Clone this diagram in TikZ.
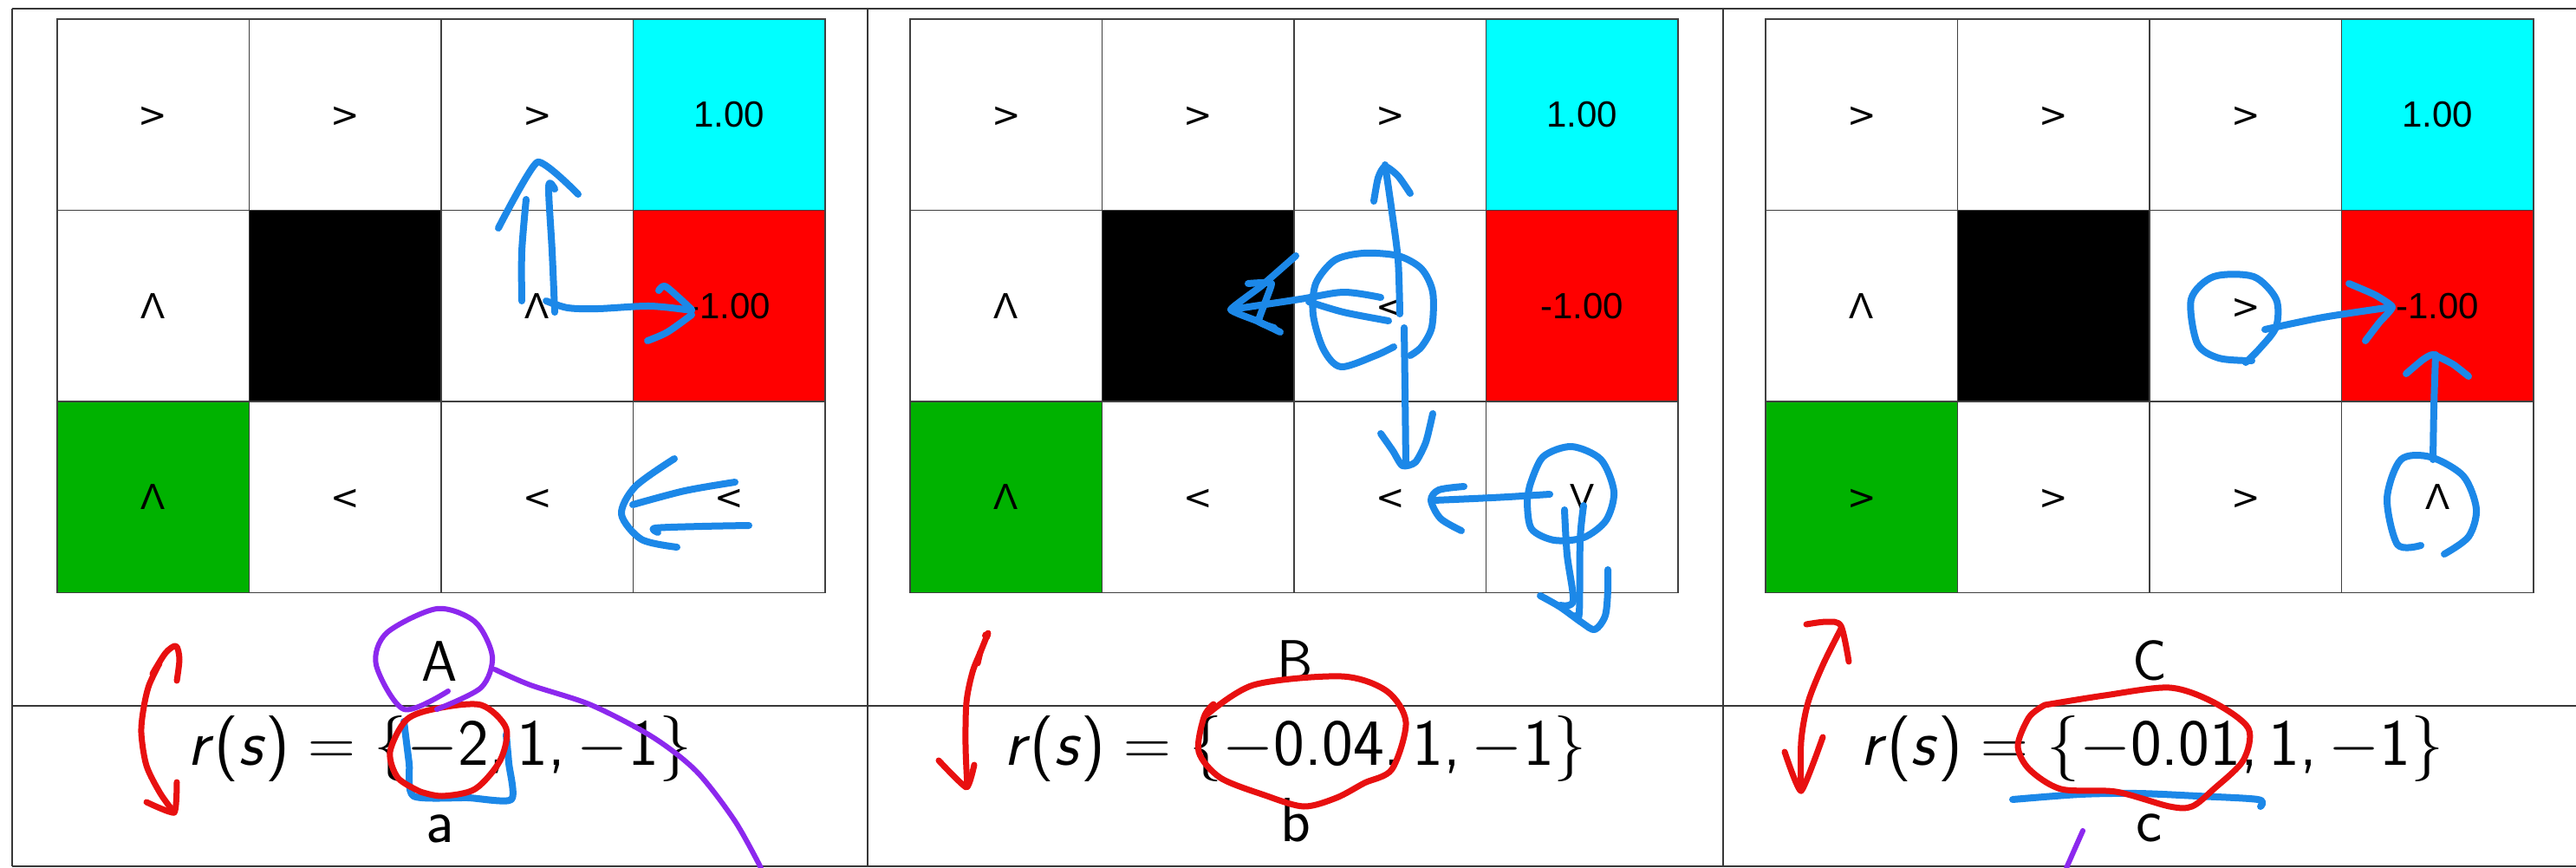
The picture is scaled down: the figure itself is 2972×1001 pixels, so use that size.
\documentclass[tikz,border=0pt]{standalone}
\usepackage{fix-cm}
\usepackage{fontspec}
\newfontfamily\liberation{Liberation Sans}
\newfontfamily\dejavu{DejaVu Sans}
\definecolor{penblue}{RGB}{28,136,232}
\definecolor{penred}{RGB}{232,16,16}
\definecolor{penpurple}{RGB}{140,40,238}
\definecolor{cellgreen}{RGB}{0,178,0}
\definecolor{cellcyan}{RGB}{0,255,255}
\definecolor{cellred}{RGB}{255,0,0}
\definecolor{framegray}{RGB}{55,55,55}
\newcommand\rsrow[1]{\textit{r}(\textit{s})\hspace{0.28em}$=$\hspace{0.28em}$\{$#1,\hspace{0.17em}1,\hspace{0.17em}$-$1$\}$}
\newcommand\gt{{\dejavu\fontsize{20pt}{24pt}\selectfont >}}
\newcommand\lt{{\dejavu\fontsize{20pt}{24pt}\selectfont <}}
\newcommand\panelgrid[3]{%
  \foreach \r/\c/\t/\f in {#3} {
    \node[cell, fill=\f] (#1-\r-\c) at ({#2+(\c-0.5)*221.5}, {22+(\r-0.5)*220.5}) {\t};
  }}
\begin{document}
\begin{tikzpicture}[x=0.5pt,y=-0.5pt,
  cell/.style={draw=black!75, line width=0.7pt, minimum width=110.75pt, minimum height=110.25pt,
    inner sep=0pt, text height=14.3pt, text depth=0pt, font=\fontsize{21pt}{25pt}\selectfont\liberation},
  frameline/.style={draw=framegray, line width=1.3pt},
  lbl/.style={inner sep=0pt, anchor=base, font=\fontsize{33pt}{40pt}\selectfont\sffamily},
  eqn/.style={inner sep=0pt, anchor=base, font=\fontsize{38pt}{45pt}\selectfont\sffamily},
  sub/.style={inner sep=0pt, anchor=base, font=\fontsize{36pt}{43pt}\selectfont\sffamily},
  pblue/.style={draw=penblue, line width=4pt, line cap=round, line join=round},
  pred/.style={draw=penred, line width=3.5pt, line cap=round, line join=round},
  ppurple/.style={draw=penpurple, line width=3pt, line cap=round, line join=round}]
\useasboundingbox (0,0) rectangle (2972,1001);
\fill[white] (0,0) rectangle (2972,1001);
% frame
\draw[frameline] (14,10) -- (2972,10);
\draw[frameline] (14,814) -- (2972,814);
\draw[frameline] (14,999) -- (2972,999);
\draw[frameline] (14,10) -- (14,999);
\draw[frameline] (1001,10) -- (1001,999);
\draw[frameline] (1988,10) -- (1988,999);
% grids
\panelgrid{A}{66}{1/1/\gt/white,1/2/\gt/white,1/3/\gt/white,1/4/1.00/cellcyan,
  2/1/Λ/white,2/2//black,2/3/Λ/white,2/4/-1.00/cellred,
  3/1/Λ/cellgreen,3/2/\lt/white,3/3/\lt/white,3/4/\lt/white}
\panelgrid{B}{1050}{1/1/\gt/white,1/2/\gt/white,1/3/\gt/white,1/4/1.00/cellcyan,
  2/1/Λ/white,2/2//black,2/3/\lt/white,2/4/-1.00/cellred,
  3/1/Λ/cellgreen,3/2/\lt/white,3/3/\lt/white,3/4/V/white}
\panelgrid{C}{2037}{1/1/\gt/white,1/2/\gt/white,1/3/\gt/white,1/4/1.00/cellcyan,
  2/1/Λ/white,2/2//black,2/3/\gt/white,2/4/-1.00/cellred,
  3/1/\gt/cellgreen,3/2/\gt/white,3/3/\gt/white,3/4/Λ/white}
% labels
\node[lbl] (labA) at (507.5,785) {A};
\node[lbl] (labB) at (1494.5,784) {B};
\node[lbl] (labC) at (2480,784) {C};
\node[eqn] (rsA) at (507.5,882) {\rsrow{$-$2}};
\node[eqn] (rsB) at (1494.5,882) {\rsrow{$-$0.04}};
\node[eqn] (rsC) at (2483,882) {\rsrow{$-$0.01}};
\node[sub] (subA) at (507.5,971) {a};
\node[sub] (subB) at (1494.5,970) {b};
\node[sub] (subC) at (2480,970) {c};
% ---------- panel A annotations ----------
\draw[pblue] plot[smooth] coordinates {(602,347) (602,290) (607,230)};
\draw[pblue] plot[smooth] coordinates {(640,360) (637,290) (633,215) (640,218)};
\draw[pblue] plot[smooth, tension=0.3] coordinates {(575,263) (620,187) (667,224)};
\draw[pblue] plot[smooth] coordinates {(630,347) (655,355) (690,356) (750,353) (798,358)};
\draw[pblue] plot[smooth] coordinates {(760,335) (767,330) (783,343) (798,357)};
\draw[pblue] plot[smooth] coordinates {(798,363) (770,383) (747,393)};
\draw[pblue] plot[smooth] coordinates {(778,529) (733,561) (717,593) (740,622) (781,631)};
\draw[pblue] plot[smooth] coordinates {(848,556) (790,566) (730,582)};
\draw[pblue] plot[smooth] coordinates {(759,614) (756,609) (810,607) (864,606)};
\draw[pblue] plot[smooth, tension=0.4] coordinates {(466,832) (472,880) (477,918) (540,920) (590,922) (587,880) (584,847)};
\draw[pred] plot[smooth] coordinates {(176,777) (191,753) (203,745) (207,760) (204,785)};
\draw[pred] plot[smooth] coordinates {(184,765) (172,790) (166,815) (163,845) (169,883) (185,915) (201,937)};
\draw[pred] plot[smooth, tension=0.3] coordinates {(169,925) (201,937) (204,902)};
\draw[pred] plot[smooth, tension=0.5] coordinates {(485,913) (459,897) (450,867) (469,830) (504,817) (555,813) (584,840) (577,877) (548,910) (510,918) (485,913)};
\draw[ppurple] plot[smooth] coordinates {(517,797) (466,818) (434,767) (446,730) (504,702) (548,717) (568,757) (555,793) (504,818)};
\draw[ppurple] plot[smooth] coordinates {(571,772) (612,790) (682,813) (753,850) (804,890) (848,947) (878,1001)};
% ---------- panel B annotations ----------
\draw[pblue] plot[smooth] coordinates {(1598,190) (1606,245) (1613,300) (1615,362)};
\draw[pblue] plot[smooth] coordinates {(1620,378) (1621,450) (1622,537)};
\draw[pblue] plot[smooth, tension=0.4] coordinates {(1585,232) (1590,205) (1598,192) (1613,203) (1627,223)};
\draw[pblue] plot[smooth, tension=0.4] coordinates {(1593,500) (1607,520) (1618,537) (1633,533) (1645,510) (1653,477)};
\draw[pblue] plot[smooth] coordinates {(1608,400) (1587,410) (1547,423) (1527,403) (1515,363) (1518,327) (1540,300) (1573,292) (1613,295) (1640,310) (1653,337) (1652,377) (1640,400) (1627,410)};
\draw[pblue] plot[smooth] coordinates {(1593,343) (1550,337) (1500,345) (1420,357)};
\draw[pblue] plot[smooth] coordinates {(1602,370) (1550,360) (1510,348)};
\draw[pblue] plot[smooth, tension=0.2] coordinates {(1495,295) (1455,330) (1420,357) (1450,370) (1477,383)};
\draw[pblue] plot[smooth, tension=0.2] coordinates {(1440,327) (1467,327) (1452,370) (1470,378)};
\draw[pblue] plot[smooth] coordinates {(1788,570) (1740,573) (1700,575) (1654,577)};
\draw[pblue] plot[smooth] coordinates {(1689,561) (1660,565) (1651,577) (1662,598) (1686,612)};
\draw[pblue] plot[smooth] coordinates {(1765,560) (1780,527) (1813,515) (1847,530) (1862,567) (1853,600) (1827,620) (1793,623) (1767,610) (1762,580) (1765,560)};
\draw[pblue] plot[smooth] coordinates {(1805,588) (1808,640) (1815,693) (1800,698)};
\draw[pblue] plot[smooth] coordinates {(1827,583) (1823,623) (1822,707) (1817,710)};
\draw[pblue] plot[smooth] coordinates {(1777,687) (1800,700) (1825,718) (1840,726) (1852,710) (1855,680) (1855,657)};
\draw[pred] plot[smooth] coordinates {(1140,730) (1132,750) (1122,775) (1115,810) (1114,860) (1116,907)};
\fill[penred] (1138,733) circle[radius=5];
\draw[pred] plot[smooth] coordinates {(1128,765) (1131,752)};
\draw[pred] plot[smooth, tension=0.3] coordinates {(1083,877) (1115,908) (1124,882)};
\draw[pred] plot[smooth] coordinates {(1389,827) (1446,790) (1548,780) (1600,797) (1622,833) (1606,887) (1574,903) (1542,920) (1504,930) (1459,917) (1408,897) (1383,867) (1389,827) (1400,812)};
% ---------- panel C annotations ----------
\draw[pblue] plot[smooth] coordinates {(2598,416) (2560,413) (2535,396) (2528,345) (2554,319) (2600,319) (2626,345) (2626,377) (2607,402) (2591,418)};
\draw[pblue] plot[smooth] coordinates {(2613,380) (2680,366) (2760,354)};
\draw[pblue] plot[smooth, tension=0.3] coordinates {(2710,327) (2740,340) (2760,354) (2745,372) (2729,393)};
\draw[pblue] plot[smooth] coordinates {(2793,629) (2766,628) (2754,575) (2770,530) (2804,527) (2842,549) (2857,587) (2848,619) (2820,639)};
\draw[pblue] plot[smooth] coordinates {(2807,530) (2808,470) (2810,409)};
\draw[pblue] plot[smooth, tension=0.3] coordinates {(2776,431) (2795,415) (2807,409) (2830,420) (2848,434)};
\draw[pblue] plot[smooth] coordinates {(2322,922) (2400,916) (2466,915) (2535,918) (2605,922) (2608,930)};
\draw[pred] plot[smooth] coordinates {(2084,720) (2108,717) (2124,722) (2133,763)};
\draw[pred] plot[smooth] coordinates {(2124,725) (2103,767) (2086,810) (2078,855) (2078,912)};
\draw[pred] plot[smooth, tension=0.3] coordinates {(2059,867) (2078,912) (2103,850)};
\draw[pred] plot[smooth] coordinates {(2359,813) (2428,802) (2503,793) (2554,810) (2594,840) (2588,877) (2554,910) (2529,930) (2503,930) (2441,913) (2378,910) (2341,887) (2328,860) (2341,827) (2359,813)};
\draw[ppurple] (2403,958) -- (2384,1001);
\end{tikzpicture}
\end{document}
